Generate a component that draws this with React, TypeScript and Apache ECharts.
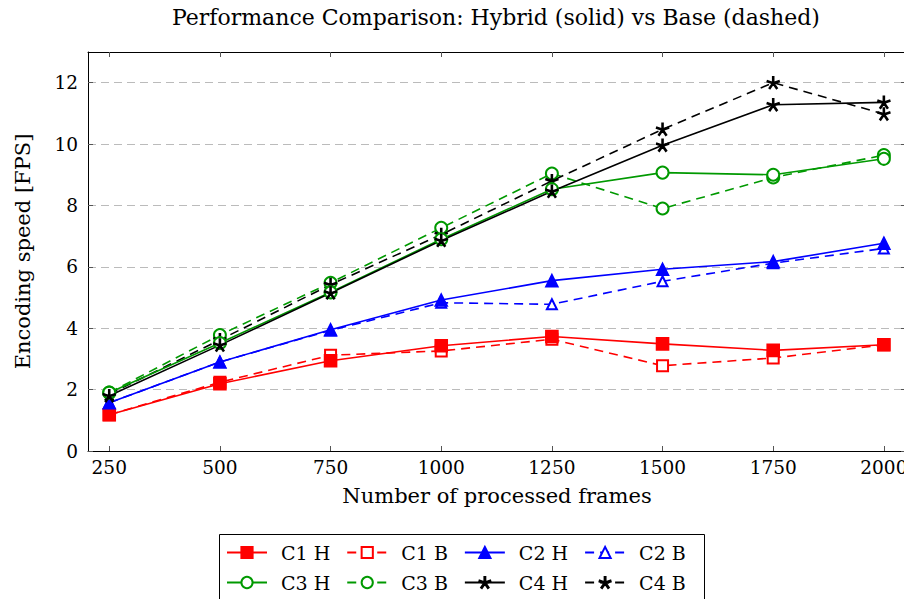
import React, { useEffect, useRef } from "react";
import * as echarts from "echarts";

const frames = [250, 500, 750, 1000, 1250, 1500, 1750, 2000];
const c1H = [1.18, 2.19, 2.94, 3.43, 3.73, 3.49, 3.28, 3.46];
const c1B = [1.18, 2.24, 3.12, 3.26, 3.64, 2.78, 3.03, 3.46];
const c2H = [1.57, 2.9, 3.95, 4.92, 5.55, 5.92, 6.17, 6.77];
const c2B = [1.57, 2.9, 3.93, 4.83, 4.78, 5.53, 6.12, 6.6];
const c3H = [1.9, 3.52, 5.17, 6.9, 8.53, 9.07, 9.0, 9.52];
const c3B = [1.9, 3.78, 5.48, 7.27, 9.04, 7.9, 8.91, 9.64];
const c4H = [1.8, 3.45, 5.15, 6.86, 8.46, 9.96, 11.28, 11.36];
const c4B = [1.85, 3.62, 5.42, 7.05, 8.8, 10.48, 12.0, 10.98];
const yTicks = [0, 2, 4, 6, 8, 10, 12];
const legendRow1 = ["C1 H", "C1 B", "C2 H", "C2 B"];
const legendRow2 = ["C3 H", "C3 B", "C4 H", "C4 B"];

const STAR =
  "path://M46 50 L46 0 L54 0 L54 50 Z M48.76 46.20 L96.31 30.75 L98.79 38.35 L51.24 53.80 Z M53.24 47.65 L82.63 88.10 L76.15 92.80 L46.76 52.35 Z M46.76 47.65 L17.37 88.10 L23.85 92.80 L53.24 52.35 Z M51.24 46.20 L3.69 30.75 L1.21 38.35 L48.76 53.80 Z";

const FONT = "DejaVu Serif";

export default function App() {
  const ref = useRef<HTMLDivElement>(null);
  useEffect(() => {
    const chart = echarts.init(ref.current!, null, { renderer: "svg" });
    const mk = (
      name: string,
      vals: number[],
      color: string,
      dashed: boolean,
      symbol: string,
      size: number
    ) => ({
      name,
      type: "line",
      xAxisIndex: 0,
      yAxisIndex: 0,
      data: frames.map((f, i) => [f, vals[i]]),
      symbol,
      symbolSize: size,
      showAllSymbol: true,
      lineStyle: { color, width: 1.6, type: dashed ? [9, 6] : "solid" },
      itemStyle: { color, borderColor: color, borderWidth: 1.6 },
      z: dashed ? 3 : 4,
    });
    const legendBase = (data: string[], top: number) => ({
      left: 226,
      top,
      width: 480,
      orient: "horizontal",
      itemWidth: 40,
      itemHeight: 14,
      itemGap: 16,
      padding: 0,
      textStyle: {
        fontFamily: FONT,
        fontSize: 19,
        color: "#000",
        width: 50,
        padding: [0, 0, 0, 9],
      },
      data,
    });
    const option: any = {
      animation: false,
      title: {
        text: "Performance Comparison: Hybrid (solid) vs Base (dashed)",
        left: 167,
        top: 1,
        textStyle: { fontFamily: FONT, fontSize: 22, fontWeight: "normal", color: "#000" },
      },
      grid: { left: 88, right: 6, top: 52, bottom: 156 },
      xAxis: [
        {
          type: "value",
          min: 202,
          max: 2050,
          name: "Number of processed frames",
          nameLocation: "middle",
          nameGap: 34,
          nameTextStyle: { fontFamily: FONT, fontSize: 21, color: "#000" },
          axisLine: { lineStyle: { color: "#000", width: 1 } },
          axisTick: { inside: true, length: 5, customValues: frames, lineStyle: { color: "#555" } },
          axisLabel: {
            customValues: frames,
            formatter: (v: number) => String(v),
            fontFamily: FONT,
            fontSize: 18.5,
            color: "#000",
            margin: 7,
          },
          splitLine: { show: false },
        },
        {
          type: "value",
          position: "top",
          min: 202,
          max: 2050,
          axisLine: { show: true, onZero: false, lineStyle: { color: "#000", width: 1 } },
          axisTick: { inside: true, length: 5, customValues: frames, lineStyle: { color: "#555" } },
          axisLabel: { show: false },
          splitLine: { show: false },
        },
      ],
      yAxis: [
        {
          type: "value",
          min: 0,
          max: 13,
          name: "Encoding speed [FPS]",
          nameLocation: "middle",
          nameGap: 55,
          nameTextStyle: { fontFamily: FONT, fontSize: 21, color: "#000" },
          axisLine: { show: true, onZero: false, lineStyle: { color: "#000", width: 1 } },
          axisTick: { show: true, inside: true, length: 5, customValues: yTicks, lineStyle: { color: "#555" } },
          axisLabel: { customValues: yTicks, fontFamily: FONT, fontSize: 18.5, color: "#000", margin: 10 },
          splitLine: { show: true, lineStyle: { color: "#bbb", type: [8, 5], width: 1 } },
        },
        {
          type: "value",
          position: "right",
          min: 0,
          max: 13,
          axisLine: { show: true, onZero: false, lineStyle: { color: "#000", width: 1 } },
          axisTick: { show: true, inside: true, length: 5, customValues: yTicks, lineStyle: { color: "#555" } },
          axisLabel: { show: false },
          splitLine: { show: false },
        },
      ],
      legend: [legendBase(legendRow1, 543), legendBase(legendRow2, 573)],
      graphic: [
        {
          type: "rect",
          left: 217,
          top: 532,
          shape: { width: 485, height: 70 },
          style: { fill: "none", stroke: "#000", lineWidth: 1 },
          silent: true,
        },
      ],
      series: [
        mk("C1 H", c1H, "#ff0000", false, "rect", 12),
        mk("C1 B", c1B, "#ff0000", true, "emptyRect", 11),
        mk("C2 H", c2H, "#0000ff", false, "triangle", 12),
        mk("C2 B", c2B, "#0000ff", true, "emptyTriangle", 10),
        mk("C3 H", c3H, "#009900", false, "emptyCircle", 12),
        mk("C3 B", c3B, "#009900", true, "emptyCircle", 12),
        mk("C4 H", c4H, "#000000", false, STAR, 12),
        mk("C4 B", c4B, "#000000", true, STAR, 12),
      ],
    };
    chart.setOption(option);
    return () => chart.dispose();
  }, []);
  return <div ref={ref} style={{ width: 912, height: 607, margin: -8 }} />;
}
